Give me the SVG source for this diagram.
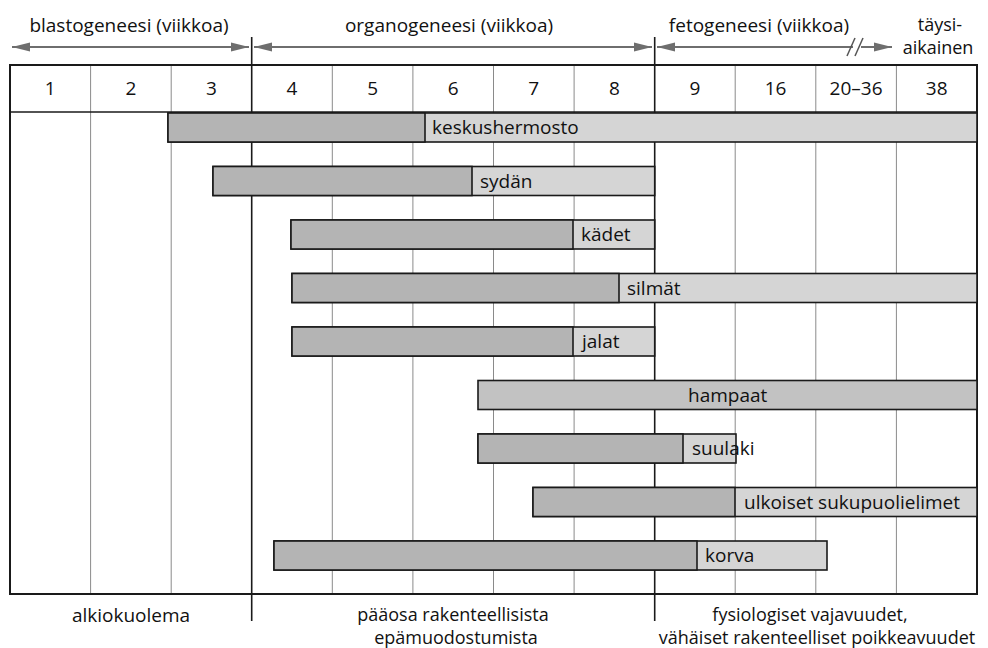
<svg xmlns="http://www.w3.org/2000/svg" width="988" height="648" viewBox="0 0 988 648">
<style>
text{font-family:"Open Sans","Noto Sans","Liberation Sans",sans-serif;fill:#111111;font-size:19px}
.c{text-anchor:middle}
.s{font-size:18px}
.grid{stroke:#8a8a8a;stroke-width:1}
.thick{stroke:#1a1a1a;stroke-width:1.6}
.dark{fill:#b4b4b4;stroke:#1a1a1a;stroke-width:1.6}
.light{fill:#d5d5d5;stroke:#1a1a1a;stroke-width:1.6}
.arr{stroke:#6e6e6e;stroke-width:2;fill:none}
</style>
<defs>
<marker id="ah" markerWidth="18" markerHeight="10" refX="18" refY="5" orient="auto-start-reverse" markerUnits="userSpaceOnUse">
<path d="M0,0.5 L18,5 L0,9.5 z" fill="#6e6e6e"/>
</marker>
</defs>
<rect width="988" height="648" fill="#ffffff"/>

<g id="phase-labels">
<text class="c" x="129" y="32">blastogeneesi (viikkoa)</text>
<text class="c" x="449" y="32">organogeneesi (viikkoa)</text>
<text class="c" x="759" y="32">fetogeneesi (viikkoa)</text>
<text class="c s" x="940" y="31">täysi-</text>
<text class="c s" x="938" y="54">aikainen</text>
</g>

<g id="table">
<g class="grid">
<line x1="90.6" y1="65" x2="90.6" y2="594"/>
<line x1="171.2" y1="65" x2="171.2" y2="594"/>
<line x1="332.3" y1="65" x2="332.3" y2="594"/>
<line x1="412.9" y1="65" x2="412.9" y2="594"/>
<line x1="493.5" y1="65" x2="493.5" y2="594"/>
<line x1="574.1" y1="65" x2="574.1" y2="594"/>
<line x1="735.2" y1="65" x2="735.2" y2="594"/>
<line x1="815.8" y1="65" x2="815.8" y2="594"/>
<line x1="896.4" y1="65" x2="896.4" y2="594"/>
</g>
<rect x="10" y="65" width="967" height="529" fill="none" stroke="#1a1a1a" stroke-width="2"/>
<line x1="10" y1="112" x2="977" y2="112" stroke="#1a1a1a" stroke-width="1.6"/>
<line class="thick" x1="251.7" y1="37" x2="251.7" y2="621"/>
<line class="thick" x1="654.7" y1="37" x2="654.7" y2="621"/>
<g id="weeks">
<text class="c" x="50.3" y="95">1</text>
<text class="c" x="130.9" y="95">2</text>
<text class="c" x="211.5" y="95">3</text>
<text class="c" x="292" y="95">4</text>
<text class="c" x="372.6" y="95">5</text>
<text class="c" x="453.2" y="95">6</text>
<text class="c" x="533.8" y="95">7</text>
<text class="c" x="614.4" y="95">8</text>
<text class="c" x="695" y="95">9</text>
<text class="c" x="775.5" y="95">16</text>
<text class="c" x="856.1" y="95">20–36</text>
<text class="c" x="936.7" y="95">38</text>
</g>
</g>

<g id="bar-keskushermosto">
<rect class="light" x="168" y="113" width="809" height="29"/>
<rect class="dark" x="168" y="113" width="257" height="29"/>
<text x="432" y="134">keskushermosto</text>
</g>
<g id="bar-sydan">
<rect class="light" x="213" y="166.5" width="441.7" height="29"/>
<rect class="dark" x="213" y="166.5" width="259" height="29"/>
<text x="480" y="187.5">sydän</text>
</g>
<g id="bar-kadet">
<rect class="light" x="291" y="220" width="363.7" height="29"/>
<rect class="dark" x="291" y="220" width="282" height="29"/>
<text x="581" y="241">kädet</text>
</g>
<g id="bar-silmat">
<rect class="light" x="292" y="273.5" width="685" height="29"/>
<rect class="dark" x="292" y="273.5" width="327" height="29"/>
<text x="627" y="294.5">silmät</text>
</g>
<g id="bar-jalat">
<rect class="light" x="292" y="327" width="362.7" height="29"/>
<rect class="dark" x="292" y="327" width="281" height="29"/>
<text x="582" y="348">jalat</text>
</g>
<g id="bar-hampaat">
<rect x="478" y="380.5" width="499" height="29" fill="#c2c2c2" stroke="#1a1a1a" stroke-width="1.6"/>
<text x="688" y="401.5">hampaat</text>
</g>
<g id="bar-suulaki">
<rect class="light" x="478" y="434" width="258" height="29"/>
<rect class="dark" x="478" y="434" width="205" height="29"/>
<text x="692" y="455">suulaki</text>
</g>
<g id="bar-ulkoiset">
<rect class="light" x="533" y="487.5" width="444" height="29"/>
<rect class="dark" x="533" y="487.5" width="202" height="29"/>
<text x="744" y="508.5">ulkoiset sukupuolielimet</text>
</g>
<g id="bar-korva">
<rect class="light" x="274" y="541" width="553" height="29"/>
<rect class="dark" x="274" y="541" width="423" height="29"/>
<text x="705" y="562">korva</text>
</g>

<g id="connectors">
<line class="arr" x1="12" y1="47" x2="249" y2="47" marker-start="url(#ah)" marker-end="url(#ah)"/>
<line class="arr" x1="254" y1="47" x2="652" y2="47" marker-start="url(#ah)" marker-end="url(#ah)"/>
<line class="arr" x1="657" y1="47" x2="853" y2="47" marker-start="url(#ah)"/>
<line class="arr" x1="861" y1="47" x2="892" y2="47" marker-end="url(#ah)"/>
<line x1="847" y1="56" x2="855" y2="38" stroke="#555" stroke-width="1.5"/>
<line x1="855" y1="56" x2="863" y2="38" stroke="#555" stroke-width="1.5"/>
</g>

<g id="outcome-labels">
<text class="c" x="131" y="622">alkiokuolema</text>
<text class="c s" x="453" y="621">pääosa rakenteellisista</text>
<text class="c s" x="456" y="644">epämuodostumista</text>
<text class="c s" x="810" y="621">fysiologiset vajavuudet,</text>
<text class="c s" x="817" y="644">vähäiset rakenteelliset poikkeavuudet</text>
</g>
</svg>
